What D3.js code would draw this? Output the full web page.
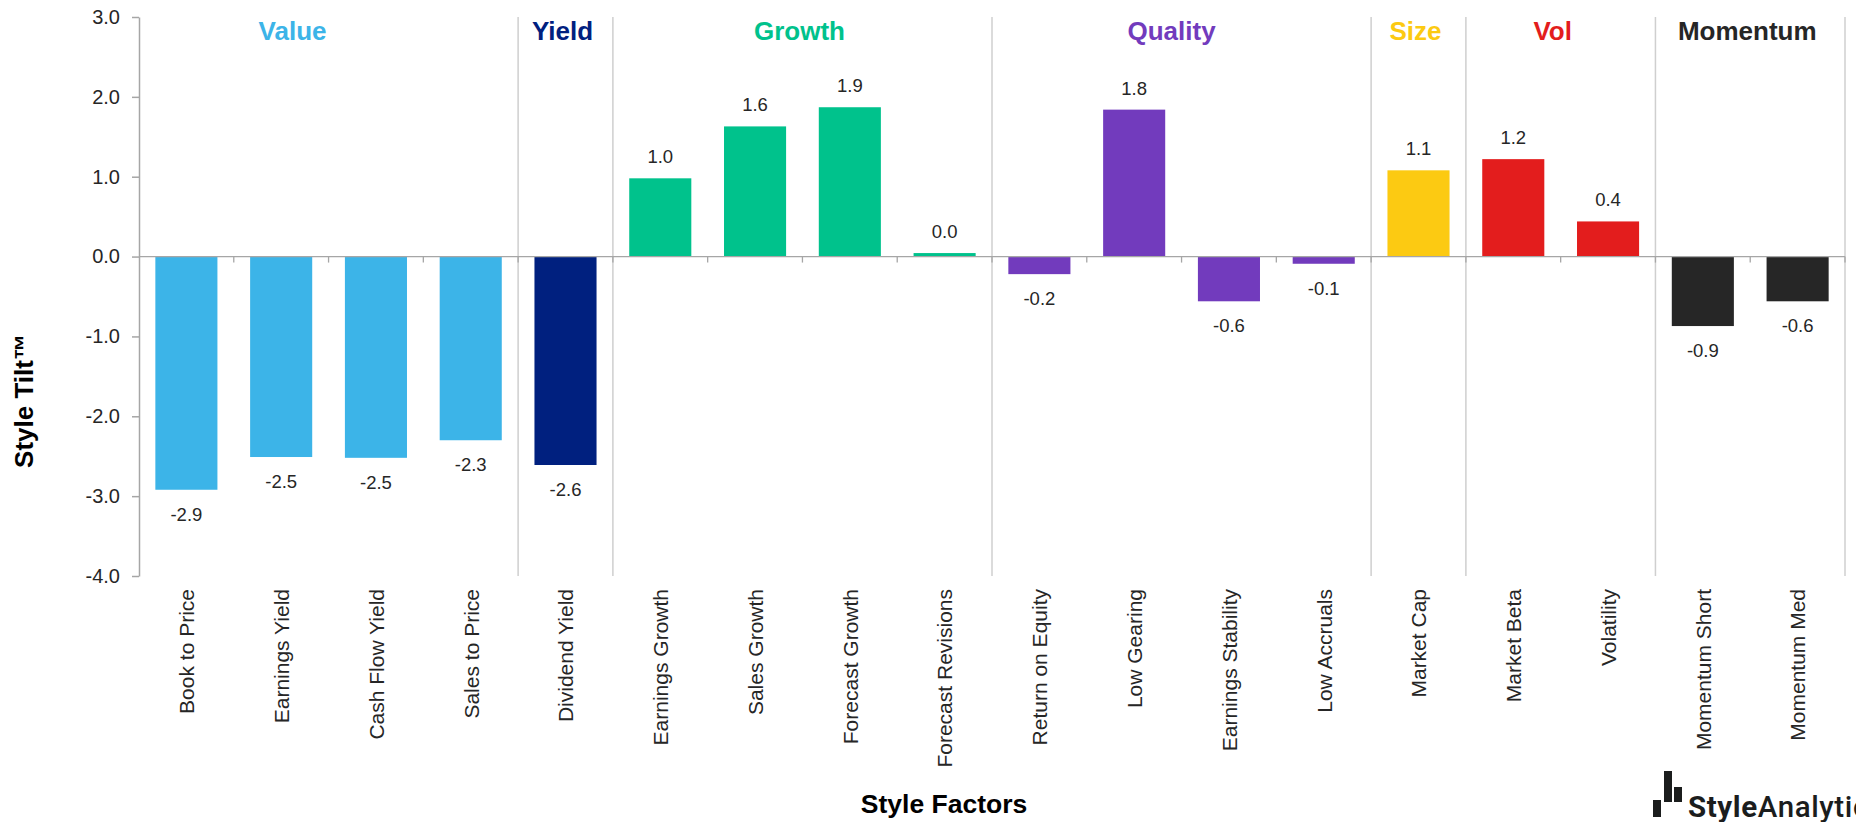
<!DOCTYPE html>
<html>
<head>
<meta charset="utf-8">
<script src="https://cdn.jsdelivr.net/npm/d3@7"></script>
<style>
  html, body { margin: 0; padding: 0; background: #fff; overflow: hidden; }
  svg { display: block; font-family: "Liberation Sans", Arial, sans-serif; }
</style>
</head>
<body>
<svg id="chart" width="1856" height="822"></svg>
<script>
// ---------------- DATA ----------------
const categories = [
  "Book to Price", "Earnings Yield", "Cash Flow Yield", "Sales to Price",
  "Dividend Yield",
  "Earnings Growth", "Sales Growth", "Forecast Growth", "Forecast Revisions",
  "Return on Equity", "Low Gearing", "Earnings Stability", "Low Accruals",
  "Market Cap",
  "Market Beta", "Volatility",
  "Momentum Short", "Momentum Med"
];
const values = [
  -2.92, -2.51, -2.52, -2.30,
  -2.61,
  0.98, 1.63, 1.87, 0.044,
  -0.22, 1.84, -0.56, -0.09,
  1.08,
  1.22, 0.44,
  -0.87, -0.56
];
const groupNames  = ["Value", "Yield", "Growth", "Quality", "Size", "Vol", "Momentum"];
const groupSizes  = [4, 1, 4, 4, 1, 2, 2];
const groupColors = ["#3cb4e8", "#00207f", "#00c28c", "#723bbd", "#fcca12", "#e31d1d", "#262626"];
const yTicks = [3, 2, 1, 0, -1, -2, -3, -4];
const yTitle = "Style Tilt\u2122";
const xTitle = "Style Factors";

// ---------------- LAYOUT ----------------
(function () {
const svg = d3.select("#chart");
const mLeft = 139, mRight = 1845, mTop = 17, mBottom = 576;
const font = '"Liberation Sans", Arial, sans-serif';

// group index of each category
const groupOf = [];
groupSizes.forEach((n, g) => { for (let i = 0; i < n; i++) groupOf.push(g); });

const x = d3.scaleBand()
  .domain(categories)
  .range([mLeft, mRight])
  .paddingInner(0.345)
  .paddingOuter(0.1725);
const step = x.step();

const y = d3.scaleLinear().domain([-4, 3]).range([mBottom, mTop]);

const fmt = v => (Math.abs(v) < 0.05 ? 0 : v).toFixed(1);

// group separators
let acc = 0;
const boundaries = groupSizes.map(n => { acc += n; return acc; });
svg.append("g").selectAll("line")
  .data(boundaries)
  .join("line")
  .attr("x1", d => mLeft + d * step)
  .attr("x2", d => mLeft + d * step)
  .attr("y1", mTop)
  .attr("y2", mBottom)
  .attr("stroke", "#cfcfcf")
  .attr("stroke-width", 1.5);

// group labels
const labelShift = { Value: -36, Quality: -10, Vol: -8 };
let start = 0;
const groupInfo = groupNames.map((name, g) => {
  const s = start; start += groupSizes[g];
  return { name, color: groupColors[g], cx: mLeft + (s + groupSizes[g] / 2) * step + (labelShift[name] || -3) };
});
svg.append("g").selectAll("text")
  .data(groupInfo)
  .join("text")
  .attr("x", d => d.cx)
  .attr("y", 40)
  .attr("text-anchor", "middle")
  .attr("font-size", 26)
  .attr("font-weight", "bold")
  .attr("fill", d => d.color)
  .text(d => d.name);

// bars
const data = categories.map((c, i) => ({ c, v: values[i], g: groupOf[i] }));
svg.append("g").selectAll("rect")
  .data(data)
  .join("rect")
  .attr("x", d => x(d.c))
  .attr("width", x.bandwidth())
  .attr("y", d => y(Math.max(0, d.v)))
  .attr("height", d => Math.abs(y(d.v) - y(0)))
  .attr("fill", d => groupColors[d.g]);

// zero line + small ticks at category boundaries
svg.append("line")
  .attr("x1", mLeft).attr("x2", mRight)
  .attr("y1", y(0)).attr("y2", y(0))
  .attr("stroke", "#a6a6a6").attr("stroke-width", 1.3);
svg.append("g").selectAll("line")
  .data(d3.range(1, categories.length + 1))
  .join("line")
  .attr("x1", d => mLeft + d * step)
  .attr("x2", d => mLeft + d * step)
  .attr("y1", y(0))
  .attr("y2", y(0) + 6)
  .attr("stroke", "#a6a6a6").attr("stroke-width", 1.3);

// data labels
svg.append("g").selectAll("text")
  .data(data)
  .join("text")
  .attr("x", d => x(d.c) + x.bandwidth() / 2)
  .attr("y", d => d.v >= 0 ? y(d.v) - 15 : y(d.v) + 31)
  .attr("text-anchor", "middle")
  .attr("font-size", 18.5)
  .attr("fill", "#262626")
  .text(d => fmt(d.v));

// y axis
const yAxis = svg.append("g")
  .attr("transform", `translate(${mLeft},0)`)
  .call(d3.axisLeft(y).tickValues(yTicks).tickFormat(v => v.toFixed(1)).tickSize(7).tickSizeOuter(0).tickPadding(12));
yAxis.select(".domain").attr("stroke", "#a6a6a6").attr("stroke-width", 1.5);
yAxis.selectAll(".tick line").attr("stroke", "#a6a6a6").attr("stroke-width", 1.5);
yAxis.selectAll(".tick text")
  .attr("font-family", font)
  .attr("font-size", 20)
  .attr("fill", "#262626");

// x category labels (rotated)
svg.append("g").selectAll("text")
  .data(categories)
  .join("text")
  .attr("transform", d => `translate(${x(d) + x.bandwidth() / 2},589) rotate(-90)`)
  .attr("dy", "0.37em")
  .attr("text-anchor", "end")
  .attr("font-size", 21)
  .attr("fill", "#262626")
  .text(d => d);

// axis titles
svg.append("text")
  .attr("transform", "translate(33,401) rotate(-90)")
  .attr("text-anchor", "middle")
  .attr("font-size", 26)
  .attr("font-weight", "bold")
  .attr("fill", "#000")
  .text(yTitle);

svg.append("text")
  .attr("x", 944)
  .attr("y", 813)
  .attr("text-anchor", "middle")
  .attr("font-size", 26.5)
  .attr("font-weight", "bold")
  .attr("fill", "#000")
  .text(xTitle);

// logo (cropped at the right edge, as in the reference)
const logo = svg.append("g").attr("fill", "#1b1d1d");
logo.append("rect").attr("x", 1653).attr("y", 800).attr("width", 8).attr("height", 17);
logo.append("rect").attr("x", 1664).attr("y", 771).attr("width", 8).attr("height", 31);
logo.append("rect").attr("x", 1674).attr("y", 787).attr("width", 8).attr("height", 15);
const lt = logo.append("text")
  .attr("x", 1688).attr("y", 817)
  .attr("font-family", "Roboto, 'Open Sans', sans-serif")
  .attr("font-size", 29.5)
  .attr("letter-spacing", 0.6);
lt.append("tspan").attr("font-weight", 700).text("Style");
lt.append("tspan").attr("font-weight", 500).text("Analytics");
})();
</script>
</body>
</html>
